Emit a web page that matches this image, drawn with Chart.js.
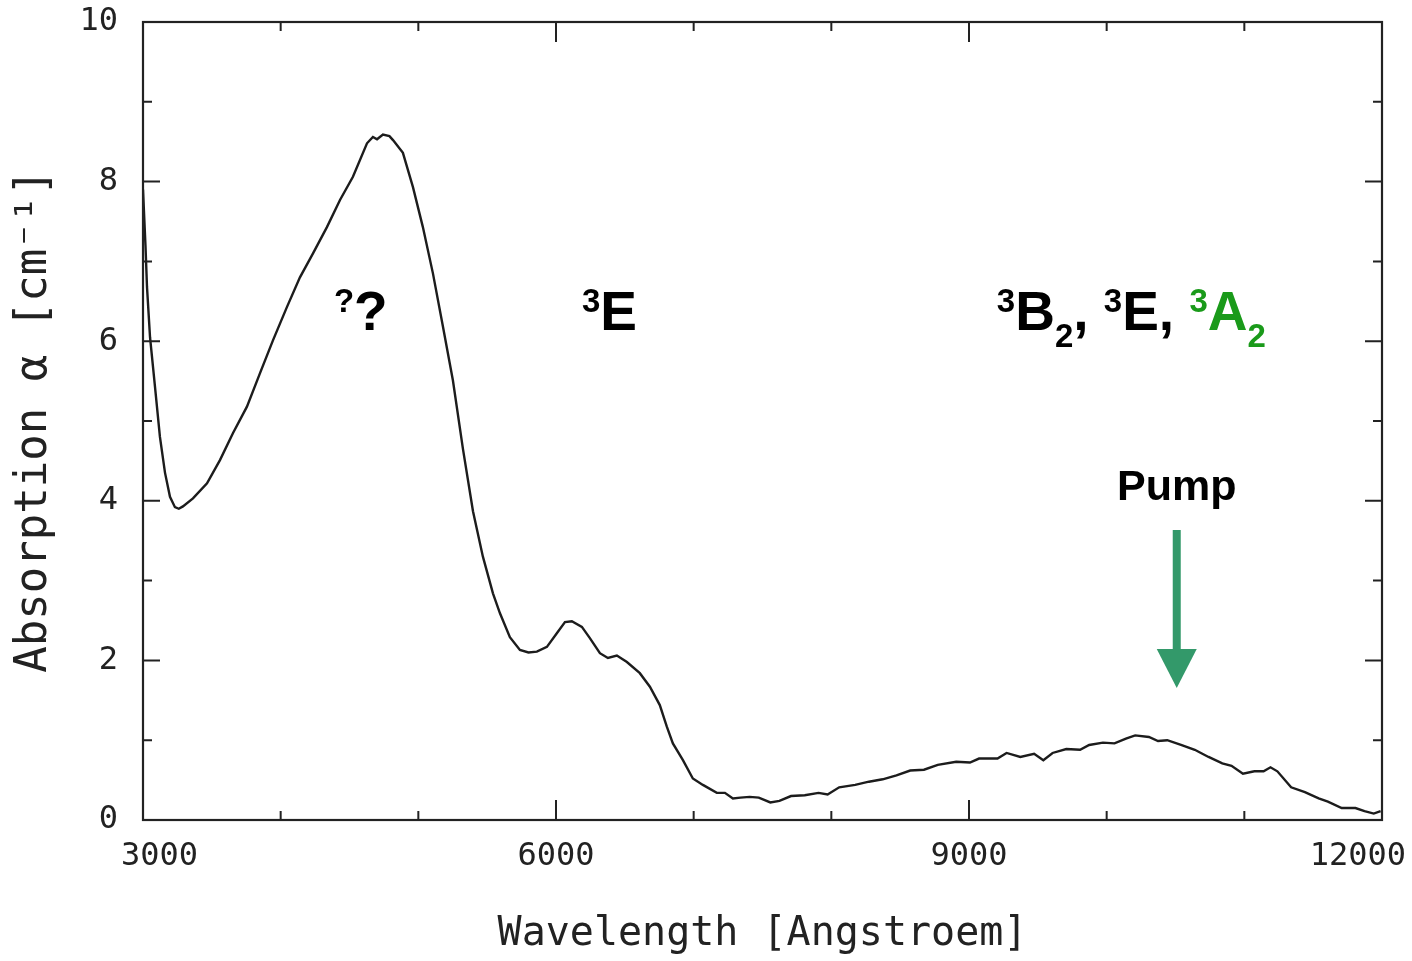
<!DOCTYPE html>
<html>
<head>
<meta charset="utf-8">
<script src="https://cdn.jsdelivr.net/npm/chart.js@4.4.1/dist/chart.umd.min.js"></script>
<style>
  html, body { margin: 0; padding: 0; background: #fff; }
  canvas { display: block; }
</style>
</head>
<body>
<canvas id="c" width="1412" height="961"></canvas>
<script>
// ---- data ----
const wavelength = [
  3000, 3018, 3029, 3051, 3087, 3123, 3160, 3196, 3232, 3260, 3290, 3363, 3465, 3559, 3654,
  3755, 3850, 3944, 4046, 4140, 4235, 4336, 4431, 4525, 4627, 4670, 4700, 4743, 4790, 4816,
  4888, 4961, 5033, 5106, 5179, 5251, 5324, 5397, 5469, 5542, 5593, 5665, 5738, 5800, 5861,
  5934, 6006, 6065, 6115, 6188, 6246, 6319, 6377, 6442, 6515, 6609, 6682, 6754, 6805, 6849,
  6922, 6994, 7067, 7168, 7227, 7285, 7340, 7407, 7473, 7557, 7623, 7707, 7807, 7907, 7973,
  8057, 8173, 8273, 8373, 8473, 8573, 8673, 8773, 8907, 9007, 9073, 9207, 9273, 9373, 9473,
  9540, 9607, 9707, 9807, 9873, 9973, 10057, 10140, 10207, 10307, 10373, 10440, 10540, 10640,
  10740, 10840, 10907, 10990, 11073, 11140, 11190, 11240, 11340, 11440, 11540, 11607, 11707,
  11807, 11873, 11940, 11990
];
const absorption = [
  7.90, 7.20, 6.68, 6.05, 5.43, 4.80, 4.35, 4.05, 3.92, 3.90, 3.93, 4.03, 4.22, 4.51, 4.85,
  5.18, 5.60, 6.01, 6.43, 6.80, 7.10, 7.43, 7.77, 8.06, 8.48, 8.56, 8.53, 8.59, 8.57, 8.52,
  8.36, 7.93, 7.43, 6.85, 6.18, 5.51, 4.65, 3.87, 3.30, 2.84, 2.59, 2.29, 2.13, 2.10, 2.11,
  2.17, 2.34, 2.48, 2.49, 2.42, 2.28, 2.09, 2.03, 2.06, 1.98, 1.84, 1.67, 1.44, 1.17, 0.96,
  0.75, 0.52, 0.44, 0.34, 0.34, 0.27, 0.28, 0.29, 0.28, 0.22, 0.24, 0.30, 0.31, 0.34, 0.32,
  0.41, 0.44, 0.48, 0.51, 0.56, 0.62, 0.63, 0.69, 0.73, 0.72, 0.77, 0.77, 0.84, 0.79, 0.83,
  0.75, 0.84, 0.89, 0.88, 0.94, 0.97, 0.96, 1.02, 1.06, 1.04, 0.99, 1.00, 0.94, 0.88,
  0.79, 0.71, 0.68, 0.58, 0.61, 0.61, 0.66, 0.61, 0.41, 0.35, 0.27, 0.23, 0.15,
  0.15, 0.11, 0.08, 0.11
];
const xTickValues = [3000, 6000, 9000, 12000];
const xTickLabels = ['3000', '6000', '9000', '12000'];
const xMinorStep = 1000;
const yTickValues = [0, 2, 4, 6, 8, 10];
const yTickLabels = ['0', '2', '4', '6', '8', '10'];
const yMinorStep = 1;
const xTitle = 'Wavelength [Angstroem]';
const yTitle = 'Absorption α [cm⁻¹]';

// annotation anchors in data units (wavelength, absorption)
const labels = [
  { x: 4387, y: 6.14, runs: [['?', 'sup'], ['?', 'big']] },
  { x: 6188, y: 6.14, runs: [['3', 'sup'], ['E', 'big']] },
  { x: 9202, y: 6.14, runs: [['3', 'sup'], ['B', 'big'], ['2', 'sub'], [', ', 'big'],
                              ['3', 'sup'], ['E', 'big'], [', ', 'big'],
                              ['3', 'sup', 'green'], ['A', 'big', 'green'], ['2', 'sub', 'green']] }
];
const pump = { text: 'Pump', x: 10509, textY: 4.01, arrowTop: 3.634, arrowTip: 1.654 };

const INK = '#222';
const GREEN_TEXT = '#1a9a1a';
const ARROW = '#33996a';

const annotPlugin = {
  id: 'annot',
  afterDraw(chart) {
    const ctx = chart.ctx, a = chart.chartArea;
    const xs = chart.scales.x, ys = chart.scales.y;
    ctx.save();
    // frame
    ctx.strokeStyle = INK; ctx.lineWidth = 2.2;
    ctx.strokeRect(a.left, a.top, a.right - a.left, a.bottom - a.top);
    // ticks (inward)
    ctx.lineWidth = 2;
    ctx.beginPath();
    for (let v = xs.min; v <= xs.max; v += xMinorStep) {
      const px = xs.getPixelForValue(v);
      const L = xTickValues.includes(v) ? 20 : 9;
      ctx.moveTo(px, a.bottom); ctx.lineTo(px, a.bottom - L);
      ctx.moveTo(px, a.top); ctx.lineTo(px, a.top + L);
    }
    for (let v = ys.min; v <= ys.max; v += yMinorStep) {
      const py = ys.getPixelForValue(v);
      const L = yTickValues.includes(v) ? 17 : 9;
      ctx.moveTo(a.left, py); ctx.lineTo(a.left + L, py);
      ctx.moveTo(a.right, py); ctx.lineTo(a.right - L, py);
    }
    ctx.stroke();
    // x tick labels
    ctx.fillStyle = INK;
    ctx.font = '32px "DejaVu Sans Mono"';
    ctx.textBaseline = 'middle';
    xTickValues.forEach((v, i) => {
      const px = xs.getPixelForValue(v);
      if (i === 0) { ctx.textAlign = 'left'; ctx.fillText(xTickLabels[i], px - 22, a.bottom + 37); }
      else if (i === xTickValues.length - 1) { ctx.textAlign = 'right'; ctx.fillText(xTickLabels[i], px + 24, a.bottom + 37); }
      else { ctx.textAlign = 'center'; ctx.fillText(xTickLabels[i], px, a.bottom + 37); }
    });
    // rich labels
    ctx.textAlign = 'left';
    ctx.textBaseline = 'alphabetic';
    const fonts = { big: 'bold 55px "Liberation Sans"', sup: 'bold 33px "Liberation Sans"', sub: 'bold 33px "Liberation Sans"' };
    const shift = { big: 0, sup: -18, sub: 17 };
    labels.forEach(lb => {
      let x = xs.getPixelForValue(lb.x);
      const y = ys.getPixelForValue(lb.y);
      lb.runs.forEach(([t, kind, col]) => {
        ctx.font = fonts[kind];
        ctx.fillStyle = col === 'green' ? GREEN_TEXT : '#000';
        ctx.fillText(t, x, y + shift[kind]);
        x += ctx.measureText(t).width;
      });
    });
    // Pump text
    const cx = xs.getPixelForValue(pump.x);
    ctx.font = 'bold 43px "Liberation Sans"';
    ctx.fillStyle = '#000';
    ctx.textAlign = 'center';
    ctx.fillText(pump.text, cx, ys.getPixelForValue(pump.textY));
    // arrow
    const yTop = ys.getPixelForValue(pump.arrowTop);
    const yTip = ys.getPixelForValue(pump.arrowTip);
    const headH = 39, headW = 40, shaftW = 8;
    ctx.fillStyle = ARROW;
    ctx.fillRect(cx - shaftW / 2, yTop, shaftW, (yTip - headH) - yTop + 1);
    ctx.beginPath();
    ctx.moveTo(cx - headW / 2, yTip - headH);
    ctx.lineTo(cx + headW / 2, yTip - headH);
    ctx.lineTo(cx, yTip);
    ctx.closePath();
    ctx.fill();
    ctx.restore();
  }
};

new Chart(document.getElementById('c'), {
  type: 'line',
  data: {
    datasets: [{
      data: wavelength.map((w, i) => ({ x: w, y: absorption[i] })),
      borderColor: '#1c1c1c',
      borderWidth: 2.4,
      pointRadius: 0,
      tension: 0,
      fill: false
    }]
  },
  options: {
    responsive: false,
    devicePixelRatio: 1,
    animation: false,
    layout: { padding: { left: 0, right: 30, top: 22, bottom: 0 } },
    plugins: { legend: { display: false }, tooltip: { enabled: false } },
    scales: {
      x: {
        type: 'linear', min: 3000, max: 12000,
        grid: { display: false, drawTicks: false },
        border: { display: false },
        ticks: { display: false },
        title: { display: true, text: xTitle, color: INK,
                 font: { family: 'DejaVu Sans Mono', size: 40 }, padding: { top: 0, bottom: 2 } },
        afterFit(s) { s.height = 141; s.paddingLeft = 0; s.paddingRight = 0; }
      },
      y: {
        type: 'linear', min: 0, max: 10,
        grid: { display: false, drawTicks: false },
        border: { display: false },
        afterBuildTicks(s) { s.ticks = yTickValues.map(v => ({ value: v })); },
        ticks: {
          color: INK, padding: 25,
          font: { family: 'DejaVu Sans Mono', size: 32 },
          callback: (v) => yTickLabels[yTickValues.indexOf(v)]
        },
        title: { display: true, text: yTitle, color: INK,
                 font: { family: 'DejaVu Sans Mono', size: 44 }, padding: { top: 8, bottom: 0 } },
        afterFit(s) { s.width = 143; s.paddingTop = 0; s.paddingBottom = 0; }
      }
    }
  },
  plugins: [annotPlugin]
});
</script>
</body>
</html>
